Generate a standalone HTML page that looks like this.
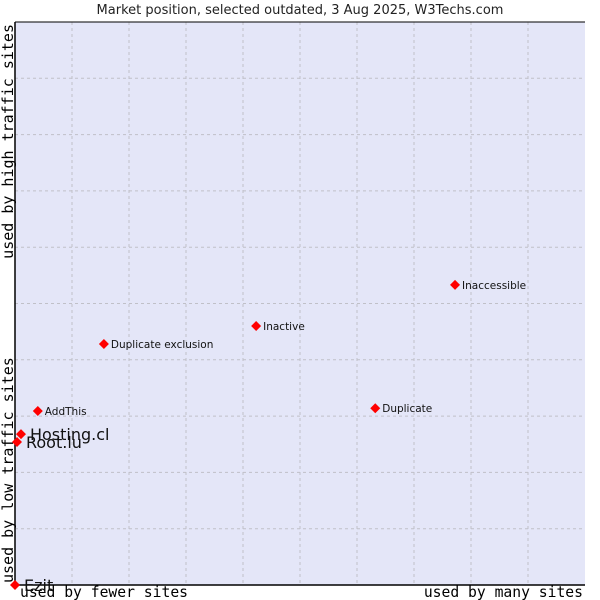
<!DOCTYPE html>
<html><head><meta charset="utf-8"><style>
body{margin:0;background:#fff;width:600px;height:600px;overflow:hidden}
svg{display:block}
</style></head><body>
<svg id="chart" width="600" height="600" xmlns="http://www.w3.org/2000/svg">
<text x="300" y="14" text-anchor="middle" font-family="DejaVu Sans, sans-serif" font-size="13" fill="#222">Market position, selected outdated, 3 Aug 2025, W3Techs.com</text>
<rect x="15" y="22" width="570" height="563" fill="#e4e6f8"/>
<g id="grid"></g>
<line x1="15" y1="22" x2="585" y2="22" stroke="#000" stroke-width="1"/>
<line x1="15" y1="22" x2="15" y2="585" stroke="#000" stroke-width="1.5"/>
<line x1="15" y1="585" x2="585" y2="585" stroke="#000" stroke-width="1.5"/>
<text x="20" y="597" font-family="DejaVu Sans Mono, monospace" font-size="14.7" fill="#000">used by fewer sites</text>
<text x="583" y="597" text-anchor="end" font-family="DejaVu Sans Mono, monospace" font-size="14.7" fill="#000">used by many sites</text>
<text transform="translate(13,583) rotate(-90)" font-family="DejaVu Sans Mono, monospace" font-size="15" fill="#000">used by low traffic sites</text>
<text transform="translate(13,24) rotate(-90)" text-anchor="end" font-family="DejaVu Sans Mono, monospace" font-size="15" fill="#000">used by high traffic sites</text>
<g id="points"></g>
</svg>
<script>
const names = ["Ezit","Root.lu","Hosting.cl","AddThis","Duplicate exclusion","Inactive","Duplicate","Inaccessible"];
const xValues = [0,0.35,1.05,4.0,15.6,42.3,63.2,77.2];
const yValues = [0,25.4,26.8,30.9,42.8,46.0,31.4,53.3];
const bigLabel = [true,true,true,false,false,false,false,false];
const ns="http://www.w3.org/2000/svg";
const X0=15,X1=585,Y0=585,Y1=22;
const sx=v=>X0+(X1-X0)*v/100;
const sy=v=>Y0-(Y0-Y1)*v/100;
const grid=document.getElementById('grid');
for(let i=1;i<10;i++){
  const lv=document.createElementNS(ns,'line');
  lv.setAttribute('x1',sx(i*10));lv.setAttribute('x2',sx(i*10));
  lv.setAttribute('y1',Y1);lv.setAttribute('y2',Y0);
  lv.setAttribute('stroke','#c0c0c8');lv.setAttribute('stroke-dasharray','3,3');
  
  
  grid.appendChild(lv);
  const lh=document.createElementNS(ns,'line');
  lh.setAttribute('y1',sy(i*10));lh.setAttribute('y2',sy(i*10));
  lh.setAttribute('x1',X0);lh.setAttribute('x2',X1);
  lh.setAttribute('stroke','#c0c0c8');lh.setAttribute('stroke-dasharray','3,3');
  
  
  grid.appendChild(lh);
}
const pts=document.getElementById('points');
names.forEach((n,i)=>{
  const px=sx(xValues[i]),py=sy(yValues[i]);
  const d=document.createElementNS(ns,'path');
  d.setAttribute('d',`M${px} ${py-5}L${px+5} ${py}L${px} ${py+5}L${px-5} ${py}Z`);
  d.setAttribute('fill','#ff0000');
  
  
  pts.appendChild(d);
  const t=document.createElementNS(ns,'text');
  t.setAttribute('x',px+(bigLabel[i]?9:7));
  t.setAttribute('y',py+(bigLabel[i]?6:4));
  t.setAttribute('font-family','DejaVu Sans, sans-serif');
  t.setAttribute('font-size',bigLabel[i]?'16':'10.5');
  t.setAttribute('fill','#111');
  
  
  t.textContent=n;
  pts.appendChild(t);
});
</script>
</body></html>
